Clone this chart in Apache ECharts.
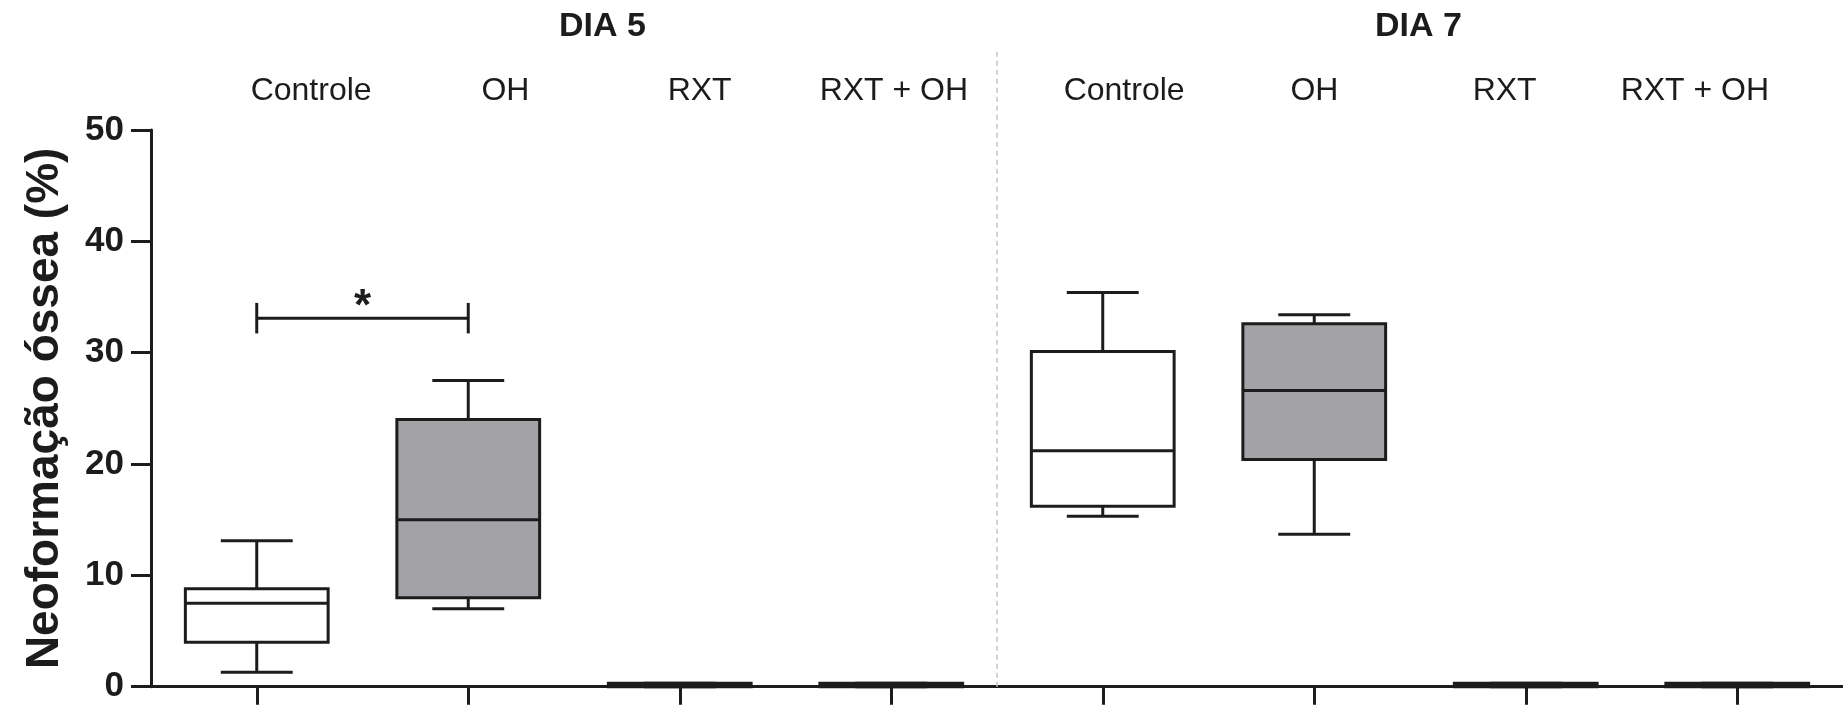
<!DOCTYPE html>
<html>
<head>
<meta charset="utf-8">
<script src="https://cdn.jsdelivr.net/npm/echarts@6/dist/echarts.min.js"></script>
<style>
html,body{margin:0;padding:0;background:#fff;}
#chart{width:1843px;height:708px;}
</style>
</head>
<body>
<div id="chart"></div>
<script>
// ---- data ----
const days = ['DIA 5', 'DIA 7'];
const groups = ['Controle', 'OH', 'RXT', 'RXT + OH'];
const groupFills = ['#ffffff', '#a3a2a6', '#ffffff', '#a3a2a6'];
const yTicks = [0, 10, 20, 30, 40, 50];
// box statistics, order: DIA 5 (Controle, OH, RXT, RXT+OH), DIA 7 (Controle, OH, RXT, RXT+OH)
const boxMin    = [1.3,  7.0, 0, 0, 15.3, 13.7, 0, 0];
const boxQ1     = [4.0,  8.0, 0, 0, 16.2, 20.4, 0, 0];
const boxMedian = [7.5, 15.0, 0.15, 0.15, 21.2, 26.6, 0.15, 0.15];
const boxQ3     = [8.8, 24.0, 0.3, 0.3, 30.1, 32.6, 0.3, 0.3];
const boxMax    = [13.1, 27.5, 0.3, 0.3, 35.4, 33.4, 0.3, 0.3];
// significance bracket: between box 0 and box 1
const sigFrom = [0];
const sigTo = [1];
const sigValue = [33.1];
const sigCapHalf = [1.37];
const sigLabel = ['*'];

// ---- build ----
const xCats = [];
days.forEach(d => groups.forEach(g => xCats.push(d + ' | ' + g)));
const boxData = xCats.map((c, i) => [i, boxMin[i], boxQ1[i], boxMedian[i], boxQ3[i], boxMax[i], i % groups.length]);
const sigData = sigFrom.map((f, i) => [f, sigTo[i], sigValue[i], sigCapHalf[i]]);
// separators between day groups (in category-boundary units)
const sepData = days.slice(1).map((d, i) => [(i + 1) * groups.length]);

const INK = '#1c1c1c';
const FONT = '"Liberation Sans", Arial, sans-serif';

function renderBox(params, api) {
  const i = api.value(0);
  const pMin = api.coord([i, api.value(1)]);
  const pQ1 = api.coord([i, api.value(2)]);
  const pMed = api.coord([i, api.value(3)]);
  const pQ3 = api.coord([i, api.value(4)]);
  const pMax = api.coord([i, api.value(5)]);
  const band = api.size([1, 0])[0];
  const bw = band * 0.675, cw = band * 0.34;
  const cx = pMed[0];
  const st = { stroke: INK, lineWidth: 3 };
  const fill = groupFills[api.value(6)];
  return {
    type: 'group',
    children: [
      { type: 'line', shape: { x1: cx, y1: pQ3[1], x2: cx, y2: pMax[1] }, style: st },
      { type: 'line', shape: { x1: cx, y1: pQ1[1], x2: cx, y2: pMin[1] }, style: st },
      { type: 'line', shape: { x1: cx - cw / 2, y1: pMax[1], x2: cx + cw / 2, y2: pMax[1] }, style: st },
      { type: 'line', shape: { x1: cx - cw / 2, y1: pMin[1], x2: cx + cw / 2, y2: pMin[1] }, style: st },
      { type: 'rect', shape: { x: cx - bw / 2, y: pQ3[1], width: bw, height: pQ1[1] - pQ3[1] },
        style: { fill: fill, stroke: INK, lineWidth: 3 } },
      { type: 'line', shape: { x1: cx - bw / 2, y1: pMed[1], x2: cx + bw / 2, y2: pMed[1] }, style: st }
    ]
  };
}

function renderSig(params, api) {
  const v = api.value(2), h = api.value(3);
  const a = api.coord([api.value(0), v]);
  const b = api.coord([api.value(1), v]);
  const top = api.coord([api.value(0), v + h])[1];
  const bot = api.coord([api.value(0), v - h])[1];
  const st = { stroke: INK, lineWidth: 3 };
  return {
    type: 'group',
    children: [
      { type: 'line', shape: { x1: a[0], y1: a[1], x2: b[0], y2: b[1] }, style: st },
      { type: 'line', shape: { x1: a[0], y1: top, x2: a[0], y2: bot }, style: st },
      { type: 'line', shape: { x1: b[0], y1: top, x2: b[0], y2: bot }, style: st },
      { type: 'text', x: (a[0] + b[0]) / 2, y: a[1] - 10,
        style: { text: sigLabel[params.dataIndex], font: 'bold 44px ' + FONT, fill: INK,
                 align: 'center', verticalAlign: 'middle' } }
    ]
  };
}

function renderSep(params, api) {
  const p0 = api.coord([api.value(0), 0]);
  const p1 = api.coord([api.value(0), 1]);
  return {
    type: 'line',
    shape: { x1: p0[0], y1: p0[1], x2: p1[0], y2: p1[1] },
    style: { stroke: '#c4c4c4', lineWidth: 1.5, lineDash: [5, 4] }
  };
}

const GRID_TOP = 130, GRID_H = 556.7;

const topAxis = (gi, di, pad) => ({
  gridIndex: gi, type: 'category', position: 'top', data: groups,
  axisLine: { show: false }, axisTick: { show: false }, splitLine: { show: false },
  axisLabel: { color: INK, fontSize: 32, fontFamily: FONT, margin: 23, interval: 0, hideOverlap: false },
  name: days[di], nameLocation: 'middle', nameGap: 86,
  nameTextStyle: { color: INK, fontSize: 34, fontWeight: 'bold', fontFamily: FONT, padding: pad }
});

const option = {
  animation: false,
  backgroundColor: '#ffffff',
  grid: [
    { left: 151, width: 1693.6, top: GRID_TOP, height: GRID_H },
    { left: 214, width: 777, top: GRID_TOP, height: GRID_H },
    { left: 1029, width: 761, top: GRID_TOP, height: GRID_H },
    { left: 151, width: 1693.6, top: 49, height: 637.7 }
  ],
  xAxis: [
    {
      gridIndex: 0, type: 'category', data: xCats,
      axisLine: { lineStyle: { color: INK, width: 3 } },
      axisTick: { show: true, alignWithLabel: true, interval: 0, length: 18, lineStyle: { color: INK, width: 3 } },
      axisLabel: { show: false, interval: 0 }, splitLine: { show: false }
    },
    topAxis(1, 0, [0, 0, 0, 0]),
    topAxis(2, 1, [0, 0, 0, 18]),
    {
      gridIndex: 3, type: 'value', min: 0, max: xCats.length, show: false
    }
  ],
  yAxis: [
    {
      gridIndex: 0, type: 'value', min: yTicks[0], max: yTicks[yTicks.length - 1],
      interval: yTicks[1] - yTicks[0],
      axisLine: { show: true, lineStyle: { color: INK, width: 3 } },
      axisTick: { show: true, length: 20, lineStyle: { color: INK, width: 3 } },
      axisLabel: { color: INK, fontSize: 35, fontWeight: 'bold', fontFamily: FONT, margin: 27 },
      splitLine: { show: false },
      name: 'Neoformação óssea (%)', nameLocation: 'middle', nameRotate: 90, nameGap: 83,
      nameTextStyle: { color: INK, fontSize: 46, fontWeight: 'bold', fontFamily: FONT }
    },
    { gridIndex: 1, type: 'value', show: false },
    { gridIndex: 2, type: 'value', show: false },
    { gridIndex: 3, type: 'value', min: 0, max: 1, show: false }
  ],
  series: [
    {
      type: 'custom', xAxisIndex: 3, yAxisIndex: 3, renderItem: renderSep,
      encode: { x: 0 }, data: sepData, z: 1
    },
    {
      type: 'custom', xAxisIndex: 0, yAxisIndex: 0, renderItem: renderBox,
      encode: { x: 0, y: [1, 2, 3, 4, 5] }, data: boxData, z: 3
    },
    {
      type: 'custom', xAxisIndex: 0, yAxisIndex: 0, renderItem: renderSig,
      encode: { x: [0, 1], y: 2 }, data: sigData, z: 4
    }
  ]
};

const chart = echarts.init(document.getElementById('chart'), null, { renderer: 'canvas' });
chart.setOption(option);
</script>
</body>
</html>
